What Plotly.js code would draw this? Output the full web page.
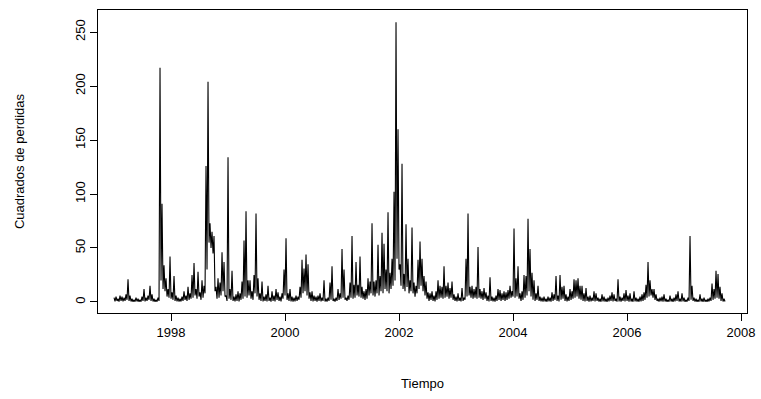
<!DOCTYPE html>
<html>
<head>
<meta charset="utf-8">
<script src="https://cdn.plot.ly/plotly-3.0.1.min.js"></script>
<style>html,body{margin:0;padding:0;background:#fff;}#chart{width:761px;height:399px;}</style>
</head>
<body>
<div id="chart"></div>
<script>
// Time series sampling
var startYear = 1997.0;
var obsPerYear = 57;

var cuadrados = [
  // 1997
  4,0.5, 5,1, 3,0.3, 6,1, 5,0.5, 4,1, 7,2, 21,1, 6,0.5, 3,0.2, 2,0.3, 4,0.5, 3,0.2, 2,0.3,
  5,1, 12,0.5, 4,1, 6,2, 15,1, 7,0.5, 3,0.2, 2,0.3, 4,1, 217,20, 91,12, 34,10, 22,5, 12,4,
  // 1998
  42,3, 9,2, 24,1, 6,0.5, 4,0.3, 3,0.5, 5,1, 10,2, 6,1, 14,2, 8,3, 25,4, 36,6, 12,3, 28,5,
  9,2, 20,4, 15,8, 126,30, 204,55, 73,50, 65,45, 61,10, 14,3, 22,4, 18,6, 46,10, 37,5, 6,1,
  // 1999
  134,3, 12,2, 29,1, 5,0.5, 7,1, 10,0.5, 8,2, 19,3, 57,5, 84,4, 20,6, 20,3, 10,2, 25,8, 82,5,
  22,2, 8,1, 19,0.5, 5,1, 7,0.5, 15,1, 4,0.3, 10,1, 6,0.5, 12,2, 9,1, 5,0.5, 8,3,
  // 2000
  30,6, 59,2, 8,1, 12,0.5, 5,0.3, 4,0.5, 6,1, 5,2, 14,4, 39,8, 31,10, 44,6, 35,3, 9,1, 10,0.5,
  6,1, 5,0.3, 6,1, 8,0.5, 4,1, 20,0.5, 3,0.3, 4,1, 18,2, 33,1, 3,0.3, 4,1, 12,2, 8,3,
  // 2001
  49,4, 30,2, 4,1, 6,2, 18,4, 61,3, 16,4, 37,6, 16,5, 42,4, 14,3, 10,2, 12,3, 22,6, 19,8,
  73,6, 19,5, 20,8, 53,6, 24,10, 64,8, 54,12, 30,10, 83,8, 27,12, 40,15, 102,20, 259,40, 160,30,
  // 2002
  35,15, 128,12, 26,10, 72,14, 40,8, 20,10, 69,8, 18,5, 15,8, 39,12, 56,15, 40,10, 24,6, 19,3,
  9,1, 8,2, 10,1, 6,0.5, 10,2, 20,3, 15,4, 14,3, 33,4, 15,5, 18,3, 13,4, 19,2, 7,1, 5,0.5,
  // 2003
  8,1, 4,0.5, 13,1, 4,2, 40,5, 82,6, 14,4, 15,3, 12,4, 14,3, 51,4, 12,3, 10,2, 13,3, 9,1,
  6,0.5, 23,1, 5,0.5, 4,0.3, 6,1, 12,2, 11,1, 8,2, 10,1, 9,2, 11,3, 15,4, 10,5,
  // 2004
  68,4, 22,5, 33,3, 8,1, 10,2, 25,4, 24,6, 77,10, 49,5, 27,2, 20,1, 8,2, 15,1, 5,0.5, 4,0.3,
  5,0.5, 3,0.2, 5,0.5, 4,0.3, 9,1, 7,2, 24,1, 6,0.5, 25,2, 14,3, 15,1, 7,0.5, 5,1, 12,2,
  // 2005
  10,3, 21,4, 20,5, 22,3, 15,2, 15,1, 8,0.5, 13,1, 5,0.3, 6,0.5, 4,1, 10,0.5, 8,1, 4,0.3,
  3,0.2, 7,0.5, 5,0.3, 3,0.2, 4,0.5, 6,1, 9,0.5, 7,1, 3,0.3, 21,0.5, 5,0.3, 4,1, 8,0.5, 11,1,
  // 2006
  6,0.3, 8,0.5, 3,0.2, 10,0.5, 4,0.3, 3,0.2, 5,0.5, 7,1, 9,2, 16,4, 37,5, 20,6, 12,4, 12,2,
  7,1, 3,0.3, 4,0.5, 5,0.3, 7,0.5, 3,0.2, 2,0.3, 6,0.5, 3,0.2, 4,0.5, 7,1, 10,0.5, 3,0.3, 8,0.5,
  // 2007
  4,0.2, 2,0.3, 4,1, 61,2, 15,1, 4,0.3, 3,0.2, 2,0.3, 7,0.5, 3,0.2, 4,0.3, 2,0.2, 3,0.5, 4,1,
  17,2, 12,3, 29,4, 26,3, 14,1, 8,0.5, 3,0.5
];

var xTicks = [1998, 2000, 2002, 2004, 2006, 2008];
var yTicks = [0, 50, 100, 150, 200, 250];

var tiempo = cuadrados.map(function (v, i) { return startYear + i / obsPerYear; });

var fontFam = 'Liberation Sans, Arial, Helvetica, sans-serif';

var trace = {
  x: tiempo,
  y: cuadrados,
  type: 'scatter',
  mode: 'lines',
  line: { color: '#000000', width: 1.1 },
  hoverinfo: 'skip'
};

var layout = {
  width: 761,
  height: 399,
  margin: { l: 98, r: 14, t: 10, b: 86 },
  paper_bgcolor: '#ffffff',
  plot_bgcolor: '#ffffff',
  showlegend: false,
  font: { family: fontFam, size: 13, color: '#000000' },
  xaxis: {
    range: [1996.719, 2008.105],
    tickvals: xTicks,
    ticktext: xTicks.map(String),
    ticks: 'outside',
    ticklen: 7,
    tickcolor: '#000',
    tickwidth: 1,
    showgrid: false,
    zeroline: false,
    showline: true,
    mirror: true,
    linecolor: '#000',
    linewidth: 1,
    ticklabelstandoff: 0,
    tickfont: { family: fontFam, size: 13, color: '#000' },
    title: { text: 'Tiempo', font: { family: fontFam, size: 13, color: '#000' }, standoff: 40 }
  },
  yaxis: {
    range: [-10.2, 270.4],
    tickvals: yTicks,
    ticktext: yTicks.map(String),
    tickangle: -90,
    ticks: 'outside',
    ticklen: 7,
    tickcolor: '#000',
    tickwidth: 1,
    showgrid: false,
    zeroline: false,
    showline: true,
    mirror: true,
    linecolor: '#000',
    linewidth: 1,
    ticklabelstandoff: 0,
    tickfont: { family: fontFam, size: 13, color: '#000' },
    title: { text: 'Cuadrados de perdidas', font: { family: fontFam, size: 13, color: '#000' }, standoff: 45 }
  }
};

Plotly.newPlot('chart', [trace], layout, { staticPlot: true, displayModeBar: false });
</script>
</body>
</html>
